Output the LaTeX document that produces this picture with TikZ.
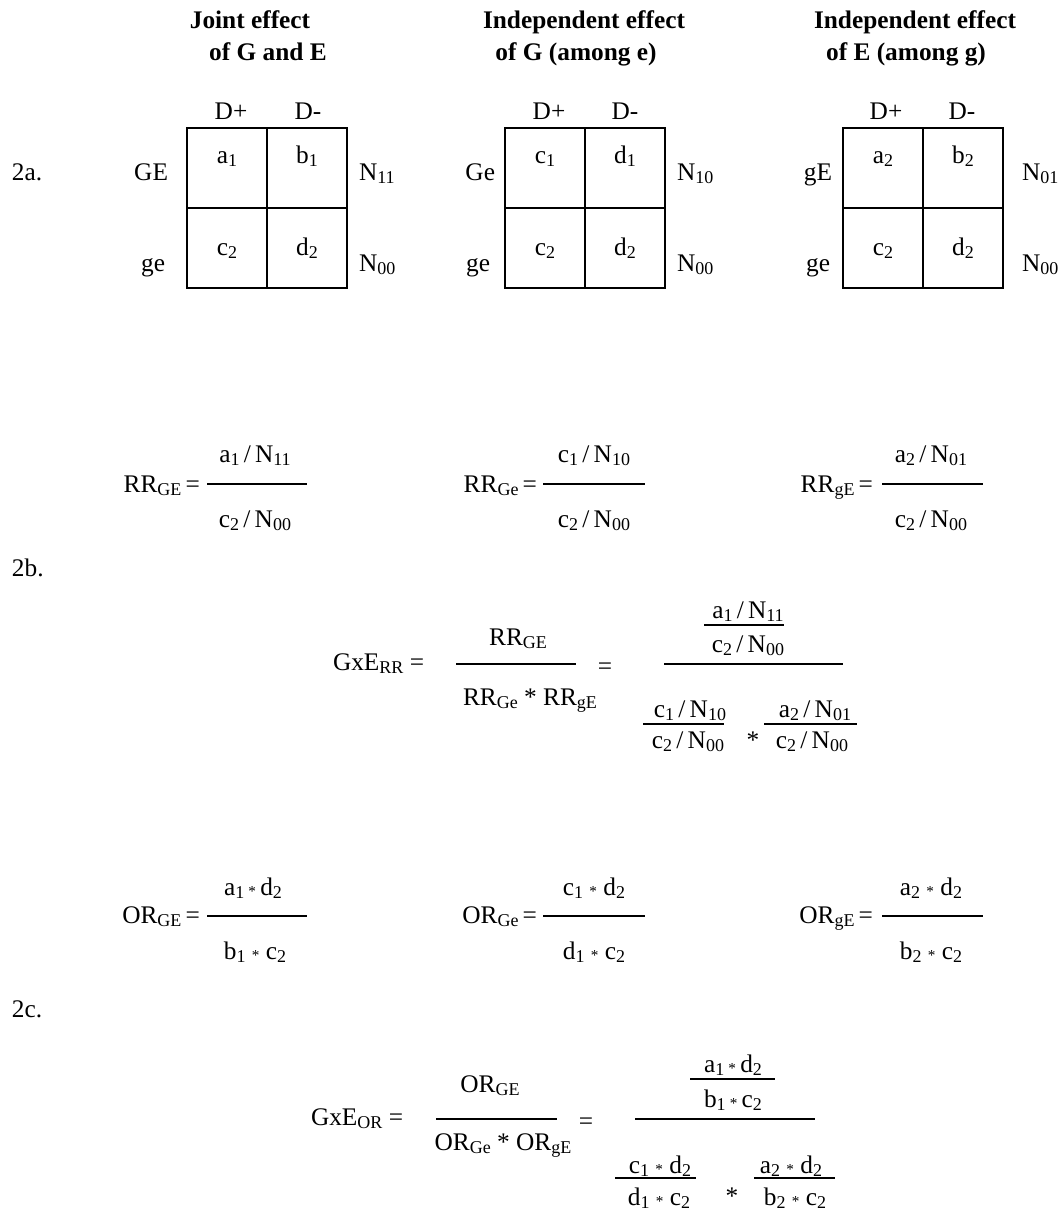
\documentclass[tikz,border=0pt]{standalone}
\usepackage{fontspec}
\usepackage{graphicx}
\setmainfont{Liberation Serif}
\newcommand\mainsz{\fontsize{19pt}{23pt}\selectfont}
\newcommand\subs[1]{\raisebox{-0.15em}{\fontsize{13.5pt}{15pt}\selectfont #1}}
\newcommand\mast{\raisebox{-0.05em}{\scalebox{0.6}{*}}}
\begin{document}
\begin{tikzpicture}[x=0.75pt,y=-0.75pt,
  every node/.style={inner sep=0pt, outer sep=0pt, font=\mainsz},
  txt/.style={anchor=base},
  head/.style={anchor=base, font=\mainsz\bfseries},
  cell/.style={draw, line width=1.2pt, minimum size=60pt},
  bar/.style={line width=1.1pt}]
\useasboundingbox (0,0) rectangle (1062,1211);

% ---------- headings ----------
\node[head] (h1a) at (250,28) {Joint effect};
\node[head] (h1b) at (268,60) {of G and E};
\node[head] (h2a) at (584,28) {Independent effect};
\node[head] (h2b) at (576,60) {of G (among e)};
\node[head] (h3a) at (915,28) {Independent effect};
\node[head] (h3b) at (906,60) {of E (among g)};

% ---------- section labels ----------
\node[txt, anchor=base west] (l2a) at (12,180) {2a.};
\node[txt, anchor=base west] (l2b) at (12,576) {2b.};
\node[txt, anchor=base west] (l2c) at (12,1017) {2c.};

% ---------- table 1 ----------
\node[cell] (A11) at (227,168) {};
\node[cell] (A12) at (307,168) {};
\node[cell] (A21) at (227,248) {};
\node[cell] (A22) at (307,248) {};
\node[txt] (A11t) at (227,163) {a\subs{1}};
\node[txt] (A12t) at (307,163) {b\subs{1}};
\node[txt] (A21t) at (227,255) {c\subs{2}};
\node[txt] (A22t) at (307,255) {d\subs{2}};
\node[txt] (AhDp) at (231,119) {D+};
\node[txt] (AhDm) at (308,119) {D-};
\node[txt, anchor=base east] (Ar1) at (168,180) {GE};
\node[txt, anchor=base east] (Ar2) at (165,271) {ge};
\node[txt, anchor=base west] (An1) at (359,180) {N\subs{11}};
\node[txt, anchor=base west] (An2) at (359,271) {N\subs{00}};

% ---------- table 2 ----------
\node[cell] (B11) at (545,168) {};
\node[cell] (B12) at (625,168) {};
\node[cell] (B21) at (545,248) {};
\node[cell] (B22) at (625,248) {};
\node[txt] (B11t) at (545,163) {c\subs{1}};
\node[txt] (B12t) at (625,163) {d\subs{1}};
\node[txt] (B21t) at (545,255) {c\subs{2}};
\node[txt] (B22t) at (625,255) {d\subs{2}};
\node[txt] (BhDp) at (549,119) {D+};
\node[txt] (BhDm) at (625,119) {D-};
\node[txt, anchor=base east] (Br1) at (495,180) {Ge};
\node[txt, anchor=base east] (Br2) at (490,271) {ge};
\node[txt, anchor=base west] (Bn1) at (677,180) {N\subs{10}};
\node[txt, anchor=base west] (Bn2) at (677,271) {N\subs{00}};

% ---------- table 3 ----------
\node[cell] (C11) at (883,168) {};
\node[cell] (C12) at (963,168) {};
\node[cell] (C21) at (883,248) {};
\node[cell] (C22) at (963,248) {};
\node[txt] (C11t) at (883,163) {a\subs{2}};
\node[txt] (C12t) at (963,163) {b\subs{2}};
\node[txt] (C21t) at (883,255) {c\subs{2}};
\node[txt] (C22t) at (963,255) {d\subs{2}};
\node[txt] (ChDp) at (886,119) {D+};
\node[txt] (ChDm) at (962,119) {D-};
\node[txt, anchor=base east] (Cr1) at (832,180) {gE};
\node[txt, anchor=base east] (Cr2) at (830,271) {ge};
\node[txt, anchor=base west] (Cn1) at (1022,180) {N\subs{01}};
\node[txt, anchor=base west] (Cn2) at (1022,271) {N\subs{00}};

% ---------- RR row ----------
\node[txt, anchor=base east] (rr1l) at (200,492) {RR\subs{GE}\,=};
\coordinate (rr1a) at (207,484); \coordinate (rr1b) at (307,484);
\draw[bar] (rr1a) -- (rr1b);
\node[txt] (rr1n) at (255,462) {a\subs{1}\,/\,N\subs{11}};
\node[txt] (rr1d) at (255,527) {c\subs{2}\,/\,N\subs{00}};

\node[txt, anchor=base east] (rr2l) at (537,492) {RR\subs{Ge}\,=};
\coordinate (rr2a) at (543,484); \coordinate (rr2b) at (645,484);
\draw[bar] (rr2a) -- (rr2b);
\node[txt] (rr2n) at (594,462) {c\subs{1}\,/\,N\subs{10}};
\node[txt] (rr2d) at (594,527) {c\subs{2}\,/\,N\subs{00}};

\node[txt, anchor=base east] (rr3l) at (873,492) {RR\subs{gE}\,=};
\coordinate (rr3a) at (882,484); \coordinate (rr3b) at (983,484);
\draw[bar] (rr3a) -- (rr3b);
\node[txt] (rr3n) at (931,462) {a\subs{2}\,/\,N\subs{01}};
\node[txt] (rr3d) at (931,527) {c\subs{2}\,/\,N\subs{00}};

% ---------- GxE RR ----------
\node[txt, anchor=base west] (grl) at (333,670) {GxE\subs{RR} =};
\node[txt] (grn) at (518,645) {RR\subs{GE}};
\coordinate (gra) at (456,664); \coordinate (grb) at (576,664);
\draw[bar] (gra) -- (grb);
\node[txt] (grd) at (530,705) {RR\subs{Ge} * RR\subs{gE}};
\node[txt] (greq) at (605,674) {=};
\coordinate (grBa) at (664,664); \coordinate (grBb) at (843,664);
\draw[bar] (grBa) -- (grBb);
\node[txt] (grtn) at (748,618) {a\subs{1}\,/\,N\subs{11}};
\coordinate (grta) at (704,625); \coordinate (grtb) at (784,625);
\draw[bar] (grta) -- (grtb);
\node[txt] (grtd) at (748,652) {c\subs{2}\,/\,N\subs{00}};
\node[txt] (grln) at (690,717) {c\subs{1}\,/\,N\subs{10}};
\coordinate (grla) at (643,724); \coordinate (grlb) at (724,724);
\draw[bar] (grla) -- (grlb);
\node[txt] (grld) at (688,748) {c\subs{2}\,/\,N\subs{00}};
\node[txt] (grst) at (753,748) {*};
\node[txt] (grrn) at (815,717) {a\subs{2}\,/\,N\subs{01}};
\coordinate (grra) at (764,724); \coordinate (grrb) at (857,724);
\draw[bar] (grra) -- (grrb);
\node[txt] (grrd) at (812,748) {c\subs{2}\,/\,N\subs{00}};

% ---------- OR row ----------
\node[txt, anchor=base east] (or1l) at (200,923) {OR\subs{GE}\,=};
\coordinate (or1a) at (207,916); \coordinate (or1b) at (307,916);
\draw[bar] (or1a) -- (or1b);
\node[txt] (or1n) at (253,895) {a\subs{1}\,\mast\,d\subs{2}};
\node[txt] (or1d) at (255,959) {b\subs{1} \mast{} c\subs{2}};

\node[txt, anchor=base east] (or2l) at (537,923) {OR\subs{Ge}\,=};
\coordinate (or2a) at (543,916); \coordinate (or2b) at (645,916);
\draw[bar] (or2a) -- (or2b);
\node[txt] (or2n) at (594,895) {c\subs{1} \mast{} d\subs{2}};
\node[txt] (or2d) at (594,959) {d\subs{1} \mast{} c\subs{2}};

\node[txt, anchor=base east] (or3l) at (873,923) {OR\subs{gE}\,=};
\coordinate (or3a) at (882,916); \coordinate (or3b) at (983,916);
\draw[bar] (or3a) -- (or3b);
\node[txt] (or3n) at (931,895) {a\subs{2} \mast{} d\subs{2}};
\node[txt] (or3d) at (931,959) {b\subs{2} \mast{} c\subs{2}};

% ---------- GxE OR ----------
\node[txt, anchor=base west] (gol) at (311,1125) {GxE\subs{OR} =};
\node[txt] (gon) at (490,1092) {OR\subs{GE}};
\coordinate (goa) at (436,1119); \coordinate (gob) at (557,1119);
\draw[bar] (goa) -- (gob);
\node[txt] (god) at (503,1150) {OR\subs{Ge} * OR\subs{gE}};
\node[txt] (goeq) at (586,1129) {=};
\coordinate (goBa) at (635,1119); \coordinate (goBb) at (815,1119);
\draw[bar] (goBa) -- (goBb);
\node[txt] (gotn) at (733,1072) {a\subs{1}\,\mast\,d\subs{2}};
\coordinate (gota) at (690,1079); \coordinate (gotb) at (775,1079);
\draw[bar] (gota) -- (gotb);
\node[txt] (gotd) at (733,1107) {b\subs{1}\,\mast\,c\subs{2}};
\node[txt] (goln) at (660,1173) {c\subs{1} \mast{} d\subs{2}};
\coordinate (gola) at (615,1178); \coordinate (golb) at (696,1178);
\draw[bar] (gola) -- (golb);
\node[txt] (gold) at (659,1205) {d\subs{1} \mast{} c\subs{2}};
\node[txt] (gost) at (732,1204) {*};
\node[txt] (gorn) at (791,1173) {a\subs{2} \mast{} d\subs{2}};
\coordinate (gora) at (754,1178); \coordinate (gorb) at (835,1178);
\draw[bar] (gora) -- (gorb);
\node[txt] (gord) at (795,1205) {b\subs{2} \mast{} c\subs{2}};
\end{tikzpicture}
\end{document}
